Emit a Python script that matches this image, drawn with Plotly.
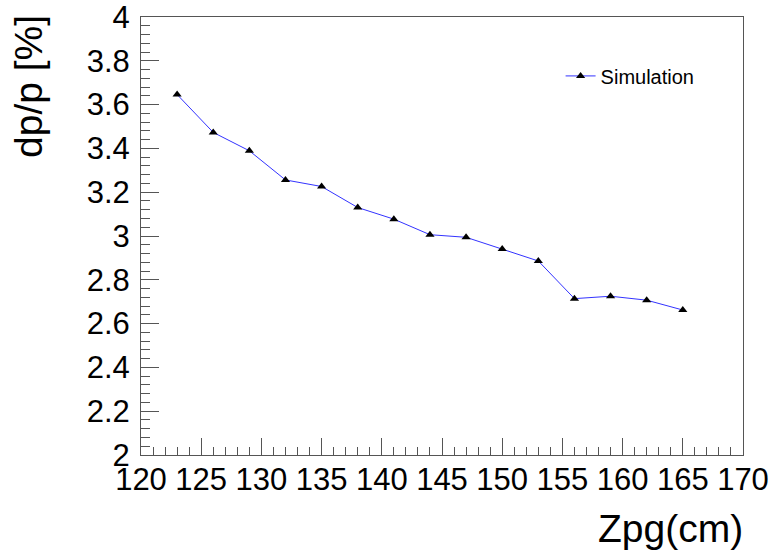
import plotly.graph_objects as go

# Momentum resolution vs. Zpg position
zpg_cm = [123, 126, 129, 132, 135, 138, 141, 144, 147, 150, 153, 156, 159, 162, 165]
dp_over_p = [3.646, 3.473, 3.389, 3.256, 3.226, 3.130, 3.077, 3.006,
             2.994, 2.941, 2.886, 2.714, 2.725, 2.707, 2.662]
series_name = "Simulation"
x_title = "Zpg(cm)"
y_title = "dp/p [%]"

FONT = "Liberation Sans, Arial, Helvetica, sans-serif"
AXIS_COLOR = "#555555"

fig = go.Figure()
fig.add_trace(go.Scatter(
    x=zpg_cm, y=dp_over_p, name=series_name,
    mode="lines+markers",
    line=dict(color="#3333ff", width=1),
    marker=dict(symbol="triangle-up", size=8, color="black"),
))

common_axis = dict(
    showgrid=False, zeroline=False, automargin=False,
    showline=True, linecolor=AXIS_COLOR, linewidth=1, mirror=True,
    ticks="inside", tickcolor=AXIS_COLOR, tickwidth=1,
    ticklabeloverflow="allow",
    tickfont=dict(family=FONT, size=31, color="black"),
)

fig.update_xaxes(
    range=[120, 170], tick0=120, dtick=5, ticklen=17,
    ticklabelstandoff=-3,
    minor=dict(ticks="inside", dtick=1, ticklen=8, tickcolor=AXIS_COLOR),
    **common_axis,
)
fig.update_yaxes(
    range=[2, 4], tick0=2, dtick=0.2, ticklen=18,
    ticklabelstandoff=4,
    minor=dict(ticks="inside", dtick=0.04, ticklen=9, tickcolor=AXIS_COLOR),
    **common_axis,
)

# Axis titles aligned to the far ends of the axes
fig.add_annotation(
    text=x_title, xref="paper", yref="paper", x=1, y=0,
    xanchor="right", yanchor="top", yshift=-50, xshift=2, showarrow=False,
    font=dict(family=FONT, size=39, color="black"),
)
fig.add_annotation(
    text=y_title, xref="paper", yref="paper", x=0, y=1,
    xanchor="left", yanchor="top", xshift=-136, yshift=4,
    textangle=-90, showarrow=False,
    font=dict(family=FONT, size=39, color="black"),
)

fig.update_layout(
    width=776, height=554,
    margin=dict(l=141, r=33, t=17, b=99, autoexpand=False),
    paper_bgcolor="white", plot_bgcolor="white",
    font=dict(family=FONT, color="black"),
    showlegend=True,
    legend=dict(
        x=0.697, y=0.91, xanchor="left", yanchor="top",
        bgcolor="rgba(0,0,0,0)", itemwidth=30,
        font=dict(family=FONT, size=20, color="black"),
    ),
)

fig.write_html("out.html")
